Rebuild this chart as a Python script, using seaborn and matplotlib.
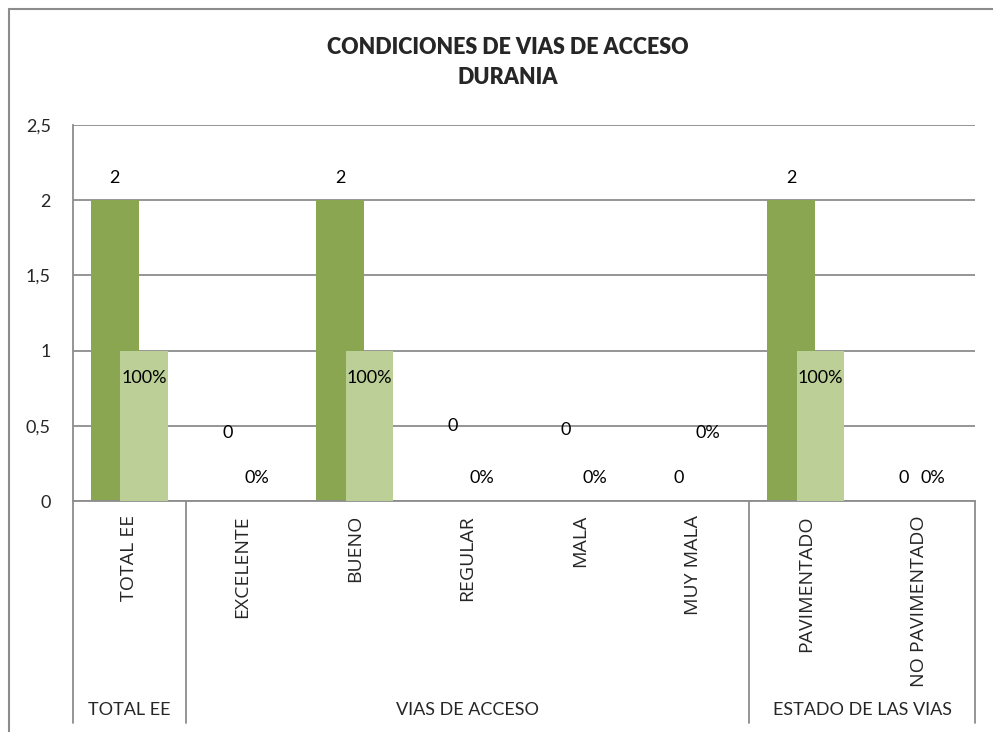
import matplotlib
matplotlib.use("Agg")
import matplotlib.pyplot as plt
from matplotlib.lines import Line2D
import seaborn as sns
import pandas as pd

categorias = ["TOTAL EE", "EXCELENTE", "BUENO", "REGULAR", "MALA",
              "MUY MALA", "PAVIMENTADO", "NO PAVIMENTADO"]
cantidad = [2, 0, 2, 0, 0, 0, 2, 0]
porcentaje = [1.0, 0.0, 1.0, 0.0, 0.0, 0.0, 1.0, 0.0]
grupos = ["TOTAL EE", "VIAS DE ACCESO", "ESTADO DE LAS VIAS"]
grupo_tamanos = [1, 5, 2]
y_ticks = [0, 0.5, 1, 1.5, 2, 2.5]
y_tick_labels = ["0", "0,5", "1", "1,5", "2", "2,5"]

# vertical placement of the data labels (in data units)
pos_etiqueta_cant = [2.15, 0.45, 2.15, 0.50, 0.47, 0.15, 2.15, 0.15]
pos_etiqueta_pct = [0.82, 0.15, 0.82, 0.15, 0.15, 0.45, 0.82, 0.15]

sns.set_theme(style="white")
plt.rcParams["font.family"] = ["Lato", "DejaVu Sans"]

c_oscuro = "#8AA650"
c_claro = "#BBCF97"
c_linea = "#8C8C8C"

df = pd.DataFrame({"cat": categorias, "cant": cantidad, "pct": porcentaje})

fig = plt.figure(figsize=(9.93, 7.32), dpi=100)
ax = fig.add_axes([73 / 993, 1 - 501 / 732, (975 - 73) / 993, (501 - 125) / 732])

ancho = 0.425
desp = 0.13
sns.barplot(data=df, x="cat", y="cant", order=categorias, color=c_oscuro,
            width=ancho, saturation=1, ax=ax, zorder=2)
n1 = len(ax.patches)
sns.barplot(data=df, x="cat", y="pct", order=categorias, color=c_claro,
            width=ancho, saturation=1, ax=ax, zorder=3)
for i, p in enumerate(ax.patches):
    p.set_x(p.get_x() + (-desp if i < n1 else desp))
    p.set_linewidth(0)

ax.set_xlim(-0.5, len(categorias) - 0.5)
ax.set_ylim(0, 2.5)
ax.set_yticks(y_ticks)
ax.set_yticklabels(y_tick_labels, fontsize=13)
ax.yaxis.grid(True, color=c_linea, linewidth=1.3, zorder=0)
ax.set_axisbelow(True)
ax.tick_params(axis="y", length=0, pad=16)
ax.set_xlabel("")
ax.set_ylabel("")
ax.set_xticks(range(len(categorias)))
ax.set_xticklabels([])
ax.tick_params(axis="x", length=0)

for s in ["top", "right"]:
    ax.spines[s].set_visible(False)
for s in ["left", "bottom"]:
    ax.spines[s].set_color(c_linea)
    ax.spines[s].set_linewidth(1.3)

# data labels
for i in range(len(categorias)):
    ax.text(i - desp, pos_etiqueta_cant[i], f"{cantidad[i]}", ha="center",
            va="center", fontsize=13, color="black", zorder=5)
    ax.text(i + desp, pos_etiqueta_pct[i], f"{porcentaje[i]:.0%}", ha="center",
            va="center", fontsize=13, color="black", zorder=5)

# rotated category labels
trans = ax.get_xaxis_transform()
for i, c in enumerate(categorias):
    ax.text(i, -0.037, c, rotation=90, ha="center", va="top", fontsize=14,
            family=["Open Sans", "DejaVu Sans"], transform=trans)

# group separators and group labels
y_fondo = (501 - 723) / (501 - 125)
inicio = -0.5
for g, n in zip(grupos, grupo_tamanos):
    fin = inicio + n
    ax.text((inicio + fin) / 2, (501 - 710) / (501 - 125), g, ha="center",
            va="center", fontsize=13, transform=trans)
    ax.plot([fin, fin], [0, y_fondo], color=c_linea, lw=1.3, transform=trans,
            clip_on=False)
    inicio = fin
ax.plot([-0.5, -0.5], [0, y_fondo], color=c_linea, lw=1.3, transform=trans,
        clip_on=False)

# chart title
fig.text(508 / 993, 1 - 47 / 732, "CONDICIONES DE VIAS DE ACCESO", ha="center",
         va="center", fontsize=15.5, fontweight="heavy")
fig.text(508 / 993, 1 - 78 / 732, "DURANIA", ha="center", va="center",
         fontsize=15.5, fontweight="heavy")

# outer chart frame
fig.add_artist(Line2D([8.5 / 993, 1.0], [1 - 9 / 732, 1 - 9 / 732],
                      color=c_linea, lw=1.5, transform=fig.transFigure))
fig.add_artist(Line2D([8.5 / 993, 8.5 / 993], [0, 1 - 9 / 732],
                      color=c_linea, lw=1.5, transform=fig.transFigure))

fig.savefig("out.png", dpi=100)
